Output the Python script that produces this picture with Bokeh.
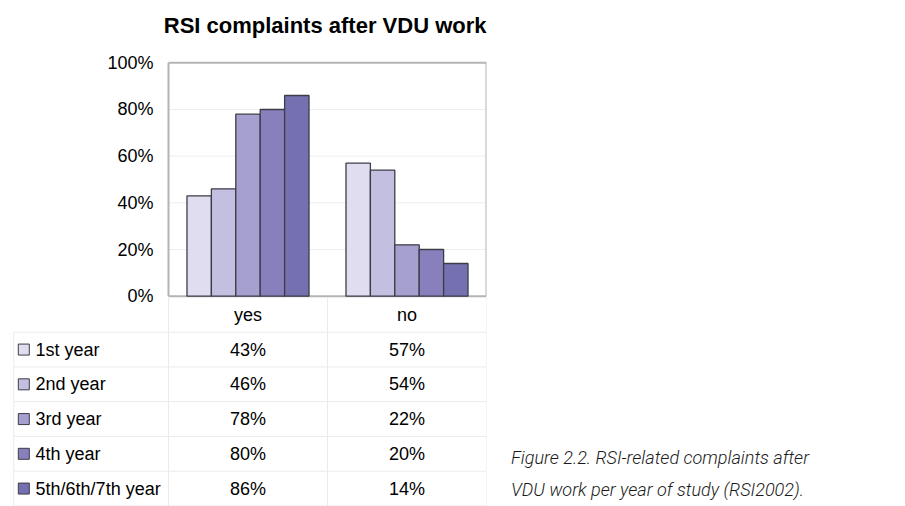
from bokeh.plotting import figure
from bokeh.models import (ColumnDataSource, FactorRange, Range1d, FixedTicker,
                          PrintfTickFormatter, LinearAxis, Div)
from bokeh.transform import dodge
from bokeh.layouts import row
from bokeh.core.properties import value
from bokeh.embed import file_html
from bokeh.resources import INLINE

# ---------------- data ----------------
categories = ["yes", "no"]
years = ["1st year", "2nd year", "3rd year", "4th year", "5th/6th/7th year"]
yes_values = [43, 46, 78, 80, 86]
no_values = [57, 54, 22, 20, 14]
y_ticks = [0, 20, 40, 60, 80, 100]
title_text = "RSI complaints after VDU work"
caption_lines = ["Figure 2.2. RSI-related complaints after",
                 "VDU work per year of study (RSI2002)."]

# ---------------- style / layout constants ----------------
colors = ["#e0ddf0", "#c3bfe1", "#a6a0d0", "#8780bc", "#7570b0"]
FONT = "Liberation Sans"
grid_col = "#ebebeb"
bar_w = 0.1535
FRAME_TOP, FRAME_BOTTOM = 40, 506
Y0_PX, Y100_PX = 295.7, 62.3          # pixel rows of 0% and 100%
ROW_PX, FIRST_LINE_PX = 34.75, 331.7  # table row height, first row rule

ppu = (Y0_PX - Y100_PX) / 100.0
y_lo = -(FRAME_BOTTOM - Y0_PX) / ppu
y_hi = 100 + (Y100_PX - FRAME_TOP) / ppu
r_top = 0.5 - (FIRST_LINE_PX - FRAME_TOP) / ROW_PX
r_bot = 0.5 + (FRAME_BOTTOM - FIRST_LINE_PX) / ROW_PX

cols = ["label"] + categories
p = figure(x_range=FactorRange(*cols, range_padding=0),
           y_range=Range1d(y_lo, y_hi),
           frame_width=477, frame_height=FRAME_BOTTOM - FRAME_TOP,
           min_border_left=9, min_border_right=9,
           min_border_top=FRAME_TOP, min_border_bottom=0,
           x_axis_location=None, y_axis_location=None,
           toolbar_location=None, output_backend="svg")
p.extra_y_ranges = {"table": Range1d(start=r_bot, end=r_top)}
p.xgrid.grid_line_color = None
p.ygrid.grid_line_color = None
p.outline_line_color = None
p.background_fill_color = "white"
p.border_fill_color = "white"

p.title.text = title_text
p.title.align = "right"
p.title.offset = 0
p.title.standoff = 5
p.title.text_font = FONT
p.title.text_font_size = "22px"
p.title.text_font_style = "bold"
p.title.text_color = "#000000"

# ---------------- bar chart area ----------------
xr = p.x_range
gsrc = ColumnDataSource(dict(a=[categories[0]] * 4, b=[categories[-1]] * 4, y=y_ticks[1:-1]))
p.segment(x0=dodge("a", -0.5, range=xr), x1=dodge("b", 0.5, range=xr), y0="y", y1="y",
          source=gsrc, line_color="#eeeeee", line_width=1)
# plot-area border
osrc = ColumnDataSource(dict(a=[categories[0]] * 2, b=[categories[-1]] * 2,
                             y=[y_ticks[0], y_ticks[-1]]))
p.segment(x0=dodge("a", -0.5, range=xr), x1=dodge("b", 0.5, range=xr), y0="y", y1="y",
          source=osrc, line_color="#b4b4b4", line_width=2)
p.segment(x0=dodge("c", -0.5, range=xr), x1=dodge("c", -0.5, range=xr), y0="y0", y1="y1",
          source=ColumnDataSource(dict(c=[categories[0]], y0=[y_ticks[0]], y1=[y_ticks[-1]])),
          line_color="#b4b4b4", line_width=2)
p.segment(x0=dodge("c", 0.5, range=xr), x1=dodge("c", 0.5, range=xr), y0="y0", y1="y1",
          source=ColumnDataSource(dict(c=[categories[-1]], y0=[y_ticks[0]], y1=[y_ticks[-1]])),
          line_color="#b4b4b4", line_width=2)

for i, yr in enumerate(years):
    src = ColumnDataSource(dict(cat=categories, val=[yes_values[i], no_values[i]]))
    p.vbar(x=dodge("cat", (i - 2) * bar_w, range=xr), top="val", bottom=0,
           width=bar_w, source=src, fill_color=colors[i],
           line_color="#3c3c46", line_width=1.3)

yax = LinearAxis(fixed_location=1.0)
yax.ticker = FixedTicker(ticks=y_ticks)
yax.formatter = PrintfTickFormatter(format="%d%%")
yax.axis_line_color = None
yax.major_tick_line_color = None
yax.minor_tick_line_color = None
yax.major_tick_out = 0
yax.major_tick_in = 0
yax.major_label_standoff = 15
yax.major_label_text_font = FONT
yax.major_label_text_font_size = "18px"
yax.major_label_text_color = "#000000"
p.add_layout(yax, "left")

# ---------------- data table ----------------
T = "table"
n_rows = len(years) + 1
bounds = [r + 0.5 for r in range(n_rows)]
hsrc = ColumnDataSource(dict(a=["label"] * len(bounds), b=[categories[-1]] * len(bounds), y=bounds))
p.segment(x0=dodge("a", -0.473, range=xr), x1=dodge("b", 0.5, range=xr),
          y0="y", y1="y", source=hsrc, line_color=grid_col, line_width=1, y_range_name=T)
vsrc = ColumnDataSource(dict(c=categories, y0=[-0.5] * 2, y1=[n_rows] * 2))
p.segment(x0=dodge("c", -0.5, range=xr), x1=dodge("c", -0.5, range=xr),
          y0="y0", y1="y1", source=vsrc, line_color=grid_col, line_width=1, y_range_name=T)
vsrc2 = ColumnDataSource(dict(c=[categories[-1]], y0=[-0.5], y1=[n_rows]))
p.segment(x0=dodge("c", 0.5, range=xr), x1=dodge("c", 0.5, range=xr),
          y0="y0", y1="y1", source=vsrc2, line_color=grid_col, line_width=1, y_range_name=T)
vsrc3 = ColumnDataSource(dict(c=["label"], y0=[0.5], y1=[n_rows]))
p.segment(x0=dodge("c", -0.473, range=xr), x1=dodge("c", -0.473, range=xr),
          y0="y0", y1="y1", source=vsrc3, line_color=grid_col, line_width=1, y_range_name=T)

hdr = ColumnDataSource(dict(x=categories, y=[0] * len(categories), t=categories))
p.text(x="x", y="y", text="t", source=hdr, text_font=value(FONT), text_font_size="18px",
       text_align="center", text_baseline="middle", text_color="#000000", y_range_name=T)
vx, vy, vt = [], [], []
for i in range(len(years)):
    for c, vals in zip(categories, [yes_values, no_values]):
        vx.append(c); vy.append(i + 1); vt.append(f"{vals[i]}%")
p.text(x="x", y="y", text="t", source=ColumnDataSource(dict(x=vx, y=vy, t=vt)),
       text_font=value(FONT), text_font_size="18px", text_align="center",
       text_baseline="middle", text_color="#000000", y_range_name=T)
leg = ColumnDataSource(dict(x=["label"] * len(years), y=[i + 1 for i in range(len(years))],
                            t=years, c=colors))
p.scatter(x=dodge("x", -0.41, range=xr), y="y", source=leg, marker="square",
          size=11, fill_color="c", line_color="#3c3c46", line_width=1, y_range_name=T)
p.text(x=dodge("x", -0.336, range=xr), y="y", text="t", source=leg,
       text_font=value(FONT), text_font_size="18px", text_align="left",
       text_baseline="middle", text_color="#000000", y_range_name=T)

# ---------------- caption ----------------
cap_html = ("<div style=\"margin-top:442px; padding-left:16px; white-space:nowrap; "
            "font-family:Roboto,'Liberation Sans',sans-serif; font-style:italic; font-weight:300; "
            "font-size:19px; line-height:32px; color:#1a1a1a; transform:scaleX(0.95); "
            "transform-origin:16px 0;\">" + "<br>".join(caption_lines) + "</div>")
caption = Div(text=cap_html, width=400, height=506, margin=0)

layout = row(p, caption, spacing=0)
open("out.html", "w").write(file_html(layout, INLINE))
